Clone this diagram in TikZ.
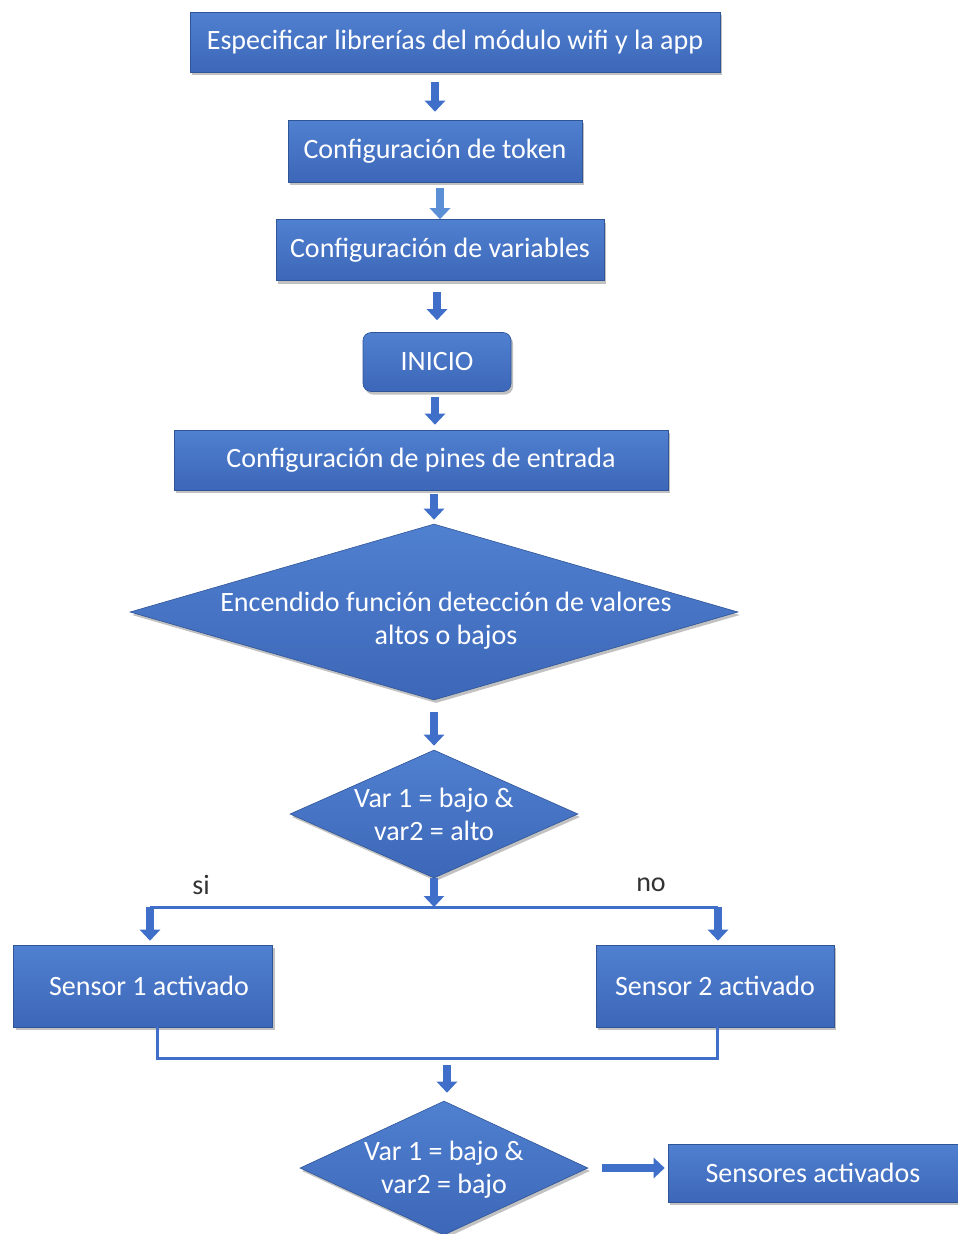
\documentclass[tikz,border=0pt]{standalone}
\usepackage{fontspec}
\setmainfont{Carlito}
\usetikzlibrary{shapes.geometric,arrows.meta,shadows,calc}
\definecolor{boxblue}{HTML}{4472C4}
\definecolor{boxtop}{HTML}{5080D0}
\definecolor{boxbot}{HTML}{3D67B8}
\definecolor{edgeblue}{HTML}{2F5597}
\definecolor{arrblue}{HTML}{3F6FC8}
\definecolor{arrlight}{HTML}{5B8FD6}
\definecolor{lblgray}{HTML}{333333}
\begin{document}
\begin{tikzpicture}[x=1pt,y=-1pt,
  font=\fontsize{28}{33}\selectfont,
  base/.style={top color=boxtop, bottom color=boxbot, draw=edgeblue, line width=0.6pt,
    text=white, inner sep=0pt, align=center,
    drop shadow={shadow xshift=2pt, shadow yshift=-3pt, opacity=0.35, fill=black!70}},
  box/.style={base, rectangle},
  dec/.style={base, diamond},
  intext/.style={text=white, align=center, inner sep=0pt},
  blockarrow/.style={draw=arrblue, line width=8pt, -{Triangle[width=20pt,length=11pt]}},
  thinline/.style={draw=arrblue, line width=3pt},
  lbl/.style={text=lblgray, inner sep=0pt}
]
\useasboundingbox (0,0) rectangle (958,1234);

\node[box, minimum width=530pt, minimum height=60pt] (b1) at (455,42) {Especificar librerías del módulo wifi y la app};
\node[box, minimum width=294pt, minimum height=62pt] (b2) at (435,151) {Configuración de token};
\node[box, minimum width=328pt, minimum height=61pt] (b3) at (440,250) {Configuración de variables};
\node[box, rounded corners=8pt, minimum width=148pt, minimum height=59pt] (ini) at (437,362) {INICIO};
\node[box, minimum width=494pt, minimum height=60pt] (pin) at (421,460) {Configuración de pines de entrada};
\node[dec, minimum width=608pt, minimum height=176pt,
  label={[intext, xshift=12pt, yshift=-9pt]center:Encendido función detección de valores\\altos o bajos}] (d1) at (434,612) {};
\node[dec, minimum width=288pt, minimum height=128pt,
  label={[intext]center:Var 1 = bajo \&\\var2 = alto}] (d2) at (434,814) {};
\node[box, minimum width=259pt, minimum height=82pt] (s1) at (143,986) {\hspace*{12pt}Sensor 1 activado};
\node[box, minimum width=238pt, minimum height=82pt] (s2) at (715,986) {Sensor 2 activado};
\node[dec, minimum width=288pt, minimum height=134pt,
  label={[intext, yshift=-2pt]center:Var 1 = bajo \&\\var2 = bajo}] (d3) at (444,1168) {};
\node[box, minimum width=290pt, minimum height=58pt] (sa) at (813,1173) {Sensores activados};

\node[lbl] (si) at (201,885) {si};
\node[lbl] (no) at (651,885) {no};

\coordinate (jt) at (434,907);
\coordinate (jl) at (150,907);
\coordinate (jr) at (718,907);
\coordinate (bl) at (157,1058);
\coordinate (br) at (717,1058);

\draw[blockarrow, shorten <=10pt, shorten >=8pt] (b1.south -| b2.north) -- (b2.north);
\draw[blockarrow, draw=arrlight, shorten <=6pt] (b2.south -| b3.north) -- (b3.north);
\draw[blockarrow, shorten <=11pt, shorten >=12pt] (b3.south -| ini.north) -- (ini.north);
\draw[blockarrow, shorten <=5pt, shorten >=5pt] ([xshift=-2pt]ini.south) -- ([xshift=-2pt]ini.south |- pin.north);
\draw[blockarrow, shorten <=4pt, shorten >=4pt] (pin.south -| d1.north) -- (d1.north);
\draw[blockarrow, shorten <=12pt, shorten >=4pt] (d1.south) -- (d2.north);
\draw[blockarrow] (d2.south) -- (jt);
\draw[thinline] (jl) -- (jr);
\draw[blockarrow, shorten >=4pt] (jl) -- (jl |- s1.north);
\draw[blockarrow, shorten >=4pt] (jr) -- (jr |- s2.north);
\draw[thinline] (s1.south -| bl) -- (bl) -- (br) -- (s2.south -| br);
\draw[blockarrow, shorten <=7pt, shorten >=8pt] ([xshift=3pt]bl -| d3.north) -- ([xshift=3pt]d3.north);
\draw[blockarrow, shorten <=14pt, shorten >=3pt] (d3.east) -- (d3.east -| sa.west);
\end{tikzpicture}
\end{document}
